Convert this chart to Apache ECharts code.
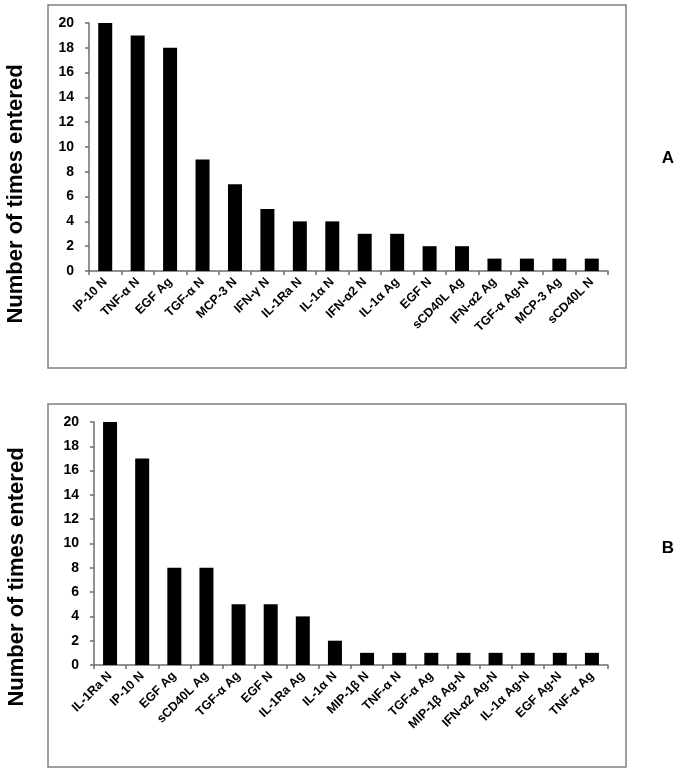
<!DOCTYPE html>
<html>
<head>
<meta charset="utf-8">
<script src="https://cdn.jsdelivr.net/npm/echarts@6/dist/echarts.min.js"></script>
<style>
html,body{margin:0;padding:0;background:#fff;}
#c{width:683px;height:772px;}
</style>
</head>
<body>
<div id="c"></div>
<script>
const categoriesA = ['IP-10 N','TNF-α N','EGF Ag','TGF-α N','MCP-3 N','IFN-γ N','IL-1Ra N','IL-1α N','IFN-α2 N','IL-1α Ag','EGF N','sCD40L Ag','IFN-α2 Ag','TGF-α Ag-N','MCP-3 Ag','sCD40L N'];
const valuesA = [20,19,18,9,7,5,4,4,3,3,2,2,1,1,1,1];
const categoriesB = ['IL-1Ra N','IP-10 N','EGF Ag','sCD40L Ag','TGF-α Ag','EGF N','IL-1Ra Ag','IL-1α N','MIP-1β N','TNF-α N','TGF-α Ag','MIP-1β Ag-N','IFN-α2 Ag-N','IL-1α Ag-N','EGF Ag-N','TNF-α Ag'];
const valuesB = [20,17,8,8,5,5,4,2,1,1,1,1,1,1,1,1];
const yTicks = [0,2,4,6,8,10,12,14,16,18,20];
const yTitle = 'Number of times entered';
const panelLabels = ['A','B'];

const FONT = '"Liberation Sans", Arial, sans-serif';
const AXIS = '#6e6e6e';
const chart = echarts.init(document.getElementById('c'));

function xAxis(idx, cats){
  return {
    type:'category', gridIndex:idx, data:cats,
    axisLine:{lineStyle:{color:AXIS,width:1.5}},
    axisTick:{show:true,length:4,lineStyle:{color:AXIS,width:1.5},alignWithLabel:false},
    axisLabel:{rotate:45,interval:0,color:'#000',fontFamily:FONT,fontWeight:'bold',fontSize:12.5,margin:9}
  };
}
function yAxis(idx){
  return {
    type:'value', gridIndex:idx, min:yTicks[0], max:yTicks[yTicks.length-1], interval:yTicks[1]-yTicks[0],
    axisLine:{show:true,lineStyle:{color:AXIS,width:1.5}},
    axisTick:{show:true,length:4,lineStyle:{color:AXIS,width:1.5}},
    splitLine:{show:false},
    axisLabel:{color:'#000',fontFamily:FONT,fontWeight:'bold',fontSize:14,margin:15}
  };
}

chart.setOption({
  animation:false,
  backgroundColor:'#fff',
  grid:[
    {left:89,right:75,top:23,height:248},
    {left:94,right:75,top:422,height:243}
  ],
  xAxis:[xAxis(0,categoriesA), xAxis(1,categoriesB)],
  yAxis:[yAxis(0), yAxis(1)],
  series:[
    {type:'bar',xAxisIndex:0,yAxisIndex:0,data:valuesA,barWidth:14,itemStyle:{color:'#000'}},
    {type:'bar',xAxisIndex:1,yAxisIndex:1,data:valuesB,barWidth:14,itemStyle:{color:'#000'}}
  ],
  graphic:[
    {type:'rect',shape:{x:48,y:5,width:578,height:363},style:{fill:'none',stroke:'#808080',lineWidth:1.5},silent:true},
    {type:'rect',shape:{x:48,y:404,width:578,height:363},style:{fill:'none',stroke:'#808080',lineWidth:1.5},silent:true},
    {type:'text',x:16,y:194,rotation:Math.PI/2,style:{text:yTitle,fill:'#000',font:'bold 22px '+FONT,textAlign:'center',textVerticalAlign:'middle'}},
    {type:'text',x:17,y:577,rotation:Math.PI/2,style:{text:yTitle,fill:'#000',font:'bold 22px '+FONT,textAlign:'center',textVerticalAlign:'middle'}},
    {type:'text',x:668,y:158,style:{text:panelLabels[0],fill:'#000',font:'bold 17px '+FONT,textAlign:'center',textVerticalAlign:'middle'}},
    {type:'text',x:668,y:548,style:{text:panelLabels[1],fill:'#000',font:'bold 17px '+FONT,textAlign:'center',textVerticalAlign:'middle'}}
  ]
});
</script>
</body>
</html>
